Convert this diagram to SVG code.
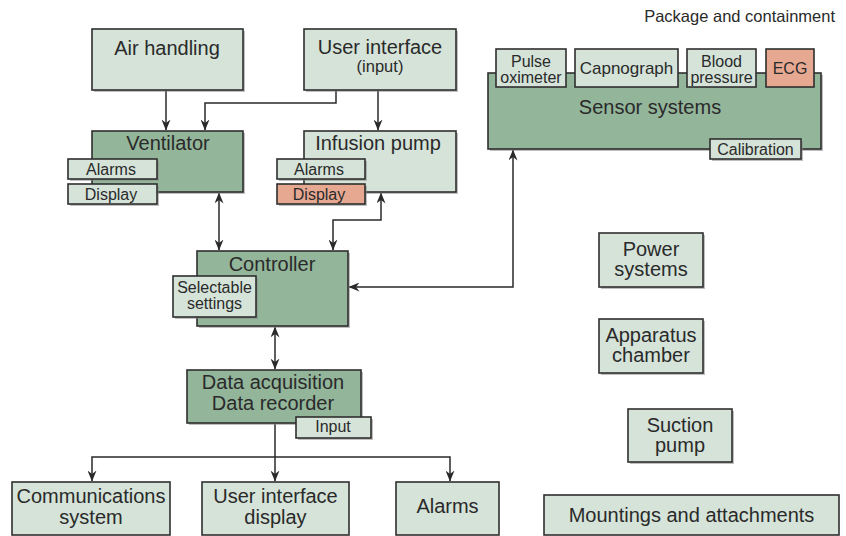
<svg xmlns="http://www.w3.org/2000/svg" width="846" height="536" viewBox="0 0 846 536">
<defs>
<marker id="ah" viewBox="0 0 11 9" refX="10.5" refY="4.5" markerWidth="11" markerHeight="9" markerUnits="userSpaceOnUse" orient="auto-start-reverse">
<path d="M0,0 L11,4.5 L0,9 L3.5,4.5 z" fill="#2a2a2a"/>
</marker>
</defs>
<style>
text{font-family:"Liberation Sans",Arial,sans-serif;fill:#2a2a2a;text-anchor:middle}
.big{font-size:20px}
.sm{font-size:16px}
.lt{fill:#d5e3d9;stroke:#2f2f2f;stroke-width:1.6}
.dk{fill:#93b59a;stroke:#2f2f2f;stroke-width:1.6}
.sa{fill:#e7a892;stroke:#2f2f2f;stroke-width:1.6}
.sh{fill:#8a8a8a;opacity:.55}
.cn{fill:none;stroke:#2a2a2a;stroke-width:1.5}
</style>
<rect width="846" height="536" fill="#ffffff"/>
<text x="835" y="22" style="font-size:16.5px;text-anchor:end">Package and containment</text>

<g id="connectors">
<path class="cn" d="M166,90 V130" marker-end="url(#ah)"/>
<path class="cn" d="M336,90 V103 H205 V130" marker-end="url(#ah)"/>
<path class="cn" d="M378,90 V130" marker-end="url(#ah)"/>
<path class="cn" d="M219,193 V250" marker-start="url(#ah)" marker-end="url(#ah)"/>
<path class="cn" d="M381,193 V220 H333 V250" marker-start="url(#ah)" marker-end="url(#ah)"/>
<path class="cn" d="M513,150 V287 H349" marker-start="url(#ah)" marker-end="url(#ah)"/>
<path class="cn" d="M275,327 V369" marker-start="url(#ah)" marker-end="url(#ah)"/>
<path class="cn" d="M275,424 V481" marker-end="url(#ah)"/>
<path class="cn" d="M92,481 V457 H450 V481" marker-start="url(#ah)" marker-end="url(#ah)"/>
</g>

<g id="air-handling">
<rect class="sh" x="94" y="31" width="151" height="61"/>
<rect class="lt" x="92" y="29" width="151" height="61"/>
<text class="big" x="167" y="55">Air handling</text>
</g>
<g id="user-interface-input">
<rect class="sh" x="306" y="31" width="152" height="61"/>
<rect class="lt" x="304" y="29" width="152" height="61"/>
<text class="big" x="380" y="54">User interface</text>
<text x="380" y="72" style="font-size:16.5px">(input)</text>
</g>

<g id="ventilator">
<rect class="sh" x="94" y="133" width="151" height="61"/>
<rect class="dk" x="92" y="131" width="151" height="61"/>
<text class="big" x="168" y="150">Ventilator</text>
<rect class="sh" x="70" y="161" width="89" height="20"/>
<rect class="lt" x="68" y="159" width="89" height="20"/>
<text class="sm" x="111" y="175">Alarms</text>
<rect class="sh" x="70" y="186" width="89" height="20"/>
<rect class="lt" x="68" y="184" width="89" height="20"/>
<text class="sm" x="111" y="200">Display</text>
</g>

<g id="infusion-pump">
<rect class="sh" x="306" y="133" width="152" height="61"/>
<rect class="lt" x="304" y="131" width="152" height="61"/>
<text class="big" x="378" y="150">Infusion pump</text>
<rect class="sh" x="279" y="161" width="88" height="20"/>
<rect class="lt" x="277" y="159" width="88" height="20"/>
<text class="sm" x="319" y="175">Alarms</text>
<rect class="sh" x="279" y="186" width="88" height="20"/>
<rect class="sa" x="277" y="184" width="88" height="20"/>
<text class="sm" x="319" y="200">Display</text>
</g>

<g id="sensor-systems">
<rect class="sh" x="490" y="75" width="333" height="76"/>
<rect class="dk" x="488" y="73" width="333" height="76"/>
<text class="big" x="650" y="114">Sensor  systems</text>
<rect class="lt" x="496" y="49" width="70" height="38"/>
<text class="sm" x="531" y="67">Pulse</text>
<text class="sm" x="531" y="83">oximeter</text>
<rect class="lt" x="575" y="49" width="103" height="38"/>
<text x="626.5" y="74" style="font-size:17px">Capnograph</text>
<rect class="lt" x="687" y="49" width="69" height="38"/>
<text class="sm" x="721.5" y="67">Blood</text>
<text class="sm" x="721.5" y="83">pressure</text>
<rect class="sa" x="766" y="49" width="48" height="38"/>
<text class="sm" x="790" y="74">ECG</text>
<rect class="sh" x="712" y="141" width="91" height="20"/>
<rect class="lt" x="710" y="139" width="91" height="20"/>
<text class="sm" x="755.5" y="155">Calibration</text>
</g>

<g id="controller">
<rect class="sh" x="199" y="253" width="151" height="75"/>
<rect class="dk" x="197" y="251" width="151" height="75"/>
<text class="big" x="272" y="271">Controller</text>
<rect class="sh" x="175" y="278" width="83" height="41"/>
<rect class="lt" x="173" y="276" width="83" height="41"/>
<text class="sm" x="214.5" y="293">Selectable</text>
<text class="sm" x="214.5" y="309">settings</text>
</g>

<g id="data-acquisition">
<rect class="sh" x="189" y="372" width="174" height="53"/>
<rect class="dk" x="187" y="370" width="174" height="53"/>
<text class="big" x="273" y="389">Data acquisition</text>
<text class="big" x="273" y="410">Data recorder</text>
<rect class="sh" x="298" y="419" width="75" height="21"/>
<rect class="lt" x="296" y="417" width="75" height="21"/>
<text class="sm" x="333" y="432">Input</text>
</g>

<g id="communications-system">
<rect class="lt" x="12" y="482" width="158" height="53"/>
<text class="big" x="91" y="503">Communications</text>
<text class="big" x="91" y="524">system</text>
</g>
<g id="user-interface-display">
<rect class="lt" x="202" y="482" width="147" height="53"/>
<text class="big" x="275.5" y="503">User interface</text>
<text class="big" x="275.5" y="524">display</text>
</g>
<g id="alarms">
<rect class="lt" x="396" y="482" width="103" height="53"/>
<text class="big" x="447.5" y="513">Alarms</text>
</g>

<g id="power-systems">
<rect class="sh" x="601" y="235" width="104" height="54"/>
<rect class="lt" x="599" y="233" width="104" height="54"/>
<text class="big" x="651" y="256">Power</text>
<text class="big" x="651" y="276">systems</text>
</g>
<g id="apparatus-chamber">
<rect class="sh" x="601" y="321" width="104" height="54"/>
<rect class="lt" x="599" y="319" width="104" height="54"/>
<text class="big" x="651" y="342">Apparatus</text>
<text class="big" x="651" y="362">chamber</text>
</g>
<g id="suction-pump">
<rect class="sh" x="630" y="411" width="104" height="53"/>
<rect class="lt" x="628" y="409" width="104" height="53"/>
<text class="big" x="680" y="432">Suction</text>
<text class="big" x="680" y="452">pump</text>
</g>
<g id="mountings">
<rect class="lt" x="544" y="495" width="295" height="40"/>
<text class="big" x="691.5" y="522">Mountings and attachments</text>
</g>
</svg>
